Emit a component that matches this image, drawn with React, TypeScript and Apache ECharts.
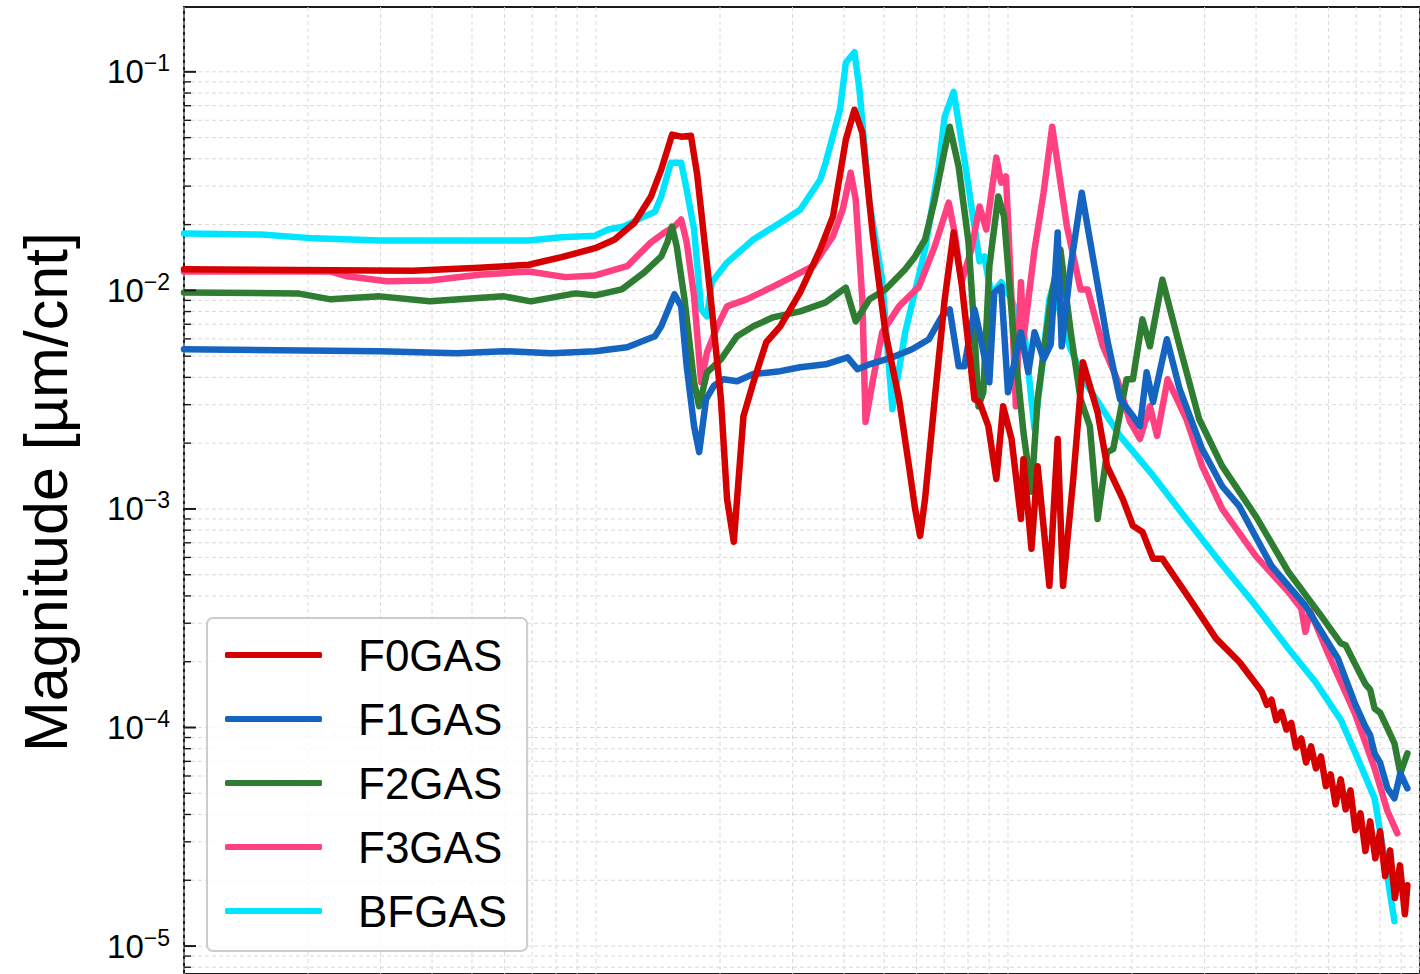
import React, { useEffect, useRef } from 'react';
import * as echarts from 'echarts';

const FONT = '"Liberation Sans", Arial, Helvetica, sans-serif';

// Transfer-function magnitude of each GAS filter: [frequency (Hz), magnitude (µm/cnt)]
const F0GAS: [number, number][] = [
  [0.01, 0.0125], [0.0359, 0.0123], [0.0521, 0.0127], [0.0687, 0.0131], [0.0825, 0.0142], [0.0995, 0.0156],
  [0.111, 0.0171], [0.124, 0.0204], [0.136, 0.0269], [0.144, 0.0357], [0.153, 0.0516], [0.161, 0.0505],
  [0.17, 0.051], [0.176, 0.0339], [0.19, 0.0091], [0.201, 0.00318], [0.208, 0.00111], [0.216, 0.000707],
  [0.228, 0.00266], [0.241, 0.0038], [0.259, 0.00579], [0.28, 0.00685], [0.313, 0.00979], [0.35, 0.0154],
  [0.376, 0.0218], [0.404, 0.0489], [0.424, 0.0671], [0.443, 0.0527], [0.469, 0.0184], [0.504, 0.00643],
  [0.544, 0.00318], [0.575, 0.00157], [0.595, 0.001], [0.612, 0.000753], [0.629, 0.00111], [0.664, 0.00318],
  [0.702, 0.0091], [0.738, 0.0184], [0.771, 0.0109], [0.829, 0.00318], [0.853, 0.00308], [0.896, 0.00239],
  [0.937, 0.00137], [0.973, 0.00295], [1.02, 0.00209], [1.075, 0.0009], [1.09, 0.00169], [1.14, 0.000657],
  [1.18, 0.00157], [1.26, 0.000445], [1.32, 0.00209], [1.36, 0.000445], [1.44, 0.00137], [1.52, 0.00469],
  [1.65, 0.00277], [1.74, 0.00157], [1.9, 0.00111], [2.01, 0.000837], [2.12, 0.000785], [2.25, 0.000591],
  [2.37, 0.000591], [2.76, 0.000388], [3.2, 0.000255], [3.64, 0.0002], [4.13, 0.000146],
  [4.25, 0.000127], [4.36, 0.000134], [4.48, 0.000108], [4.61, 0.000118], [4.74, 9.79e-5], [4.87, 0.000105],
  [5.0, 8.1e-5], [5.15, 8.91e-5], [5.29, 6.92e-5], [5.44, 8.19e-5], [5.59, 6.5e-5], [5.75, 7.37e-5],
  [5.91, 5.38e-5], [6.07, 6.1e-5], [6.24, 4.45e-5], [6.42, 5.79e-5], [6.6, 4.22e-5], [6.78, 5.16e-5],
  [6.97, 3.39e-5], [7.17, 4.05e-5], [7.37, 2.72e-5], [7.57, 3.72e-5], [7.79, 2.52e-5], [8.0, 3.35e-5],
  [8.23, 2.09e-5], [8.46, 2.74e-5], [8.69, 1.66e-5], [8.94, 2.34e-5], [9.19, 1.4e-5], [9.32, 1.9e-5],
];

const F1GAS: [number, number][] = [
  [0.01, 0.00538], [0.0299, 0.00527], [0.0459, 0.00516], [0.0598, 0.00527], [0.078, 0.00516], [0.0995, 0.00527],
  [0.119, 0.00549], [0.139, 0.00617], [0.144, 0.00685], [0.155, 0.00959], [0.161, 0.00845], [0.166, 0.0045],
  [0.173, 0.00239], [0.178, 0.00182], [0.185, 0.00318], [0.193, 0.00365], [0.204, 0.00392], [0.22, 0.00384],
  [0.241, 0.00414], [0.28, 0.00427], [0.313, 0.00445], [0.361, 0.00459], [0.408, 0.00494], [0.431, 0.00436],
  [0.461, 0.00459], [0.524, 0.00494], [0.585, 0.00538], [0.643, 0.00598], [0.691, 0.00761], [0.722, 0.00819],
  [0.759, 0.0045], [0.784, 0.0045], [0.829, 0.00819], [0.853, 0.00643], [0.901, 0.0038], [0.926, 0.00979],
  [0.963, 0.0104], [1.0, 0.00342], [1.075, 0.00643], [1.12, 0.00422], [1.16, 0.00643], [1.22, 0.00484],
  [1.27, 0.00567], [1.32, 0.0184], [1.35, 0.00555], [1.42, 0.0129], [1.51, 0.028], [1.61, 0.0139],
  [1.74, 0.00598], [1.87, 0.00318], [2.01, 0.00266], [2.09, 0.00239], [2.17, 0.00422], [2.25, 0.00308],
  [2.43, 0.00598], [2.61, 0.00353], [2.96, 0.00188], [3.31, 0.00127], [3.64, 0.00103], [4.36, 0.000549],
  [5.27, 0.000361], [6.32, 0.000207], [6.95, 0.000129], [7.37, 0.000101], [7.57, 9.2e-5], [7.76, 7.61e-5],
  [8.0, 6.9e-5], [8.34, 5.27e-5], [8.67, 4.74e-5], [8.96, 6.17e-5], [9.32, 5.27e-5],
];

const F2GAS: [number, number][] = [
  [0.01, 0.00979], [0.0189, 0.00969], [0.0227, 0.0091], [0.0299, 0.00939], [0.0395, 0.00891], [0.0598, 0.00939],
  [0.0695, 0.00891], [0.0891, 0.00969], [0.0995, 0.00949], [0.1155, 0.0101], [0.131, 0.0121], [0.144, 0.0143],
  [0.149, 0.0166], [0.153, 0.0196], [0.157, 0.0159], [0.164, 0.0091], [0.173, 0.0038], [0.178, 0.00295],
  [0.186, 0.00422], [0.201, 0.00484], [0.22, 0.00617], [0.241, 0.00685], [0.269, 0.00753], [0.313, 0.00802],
  [0.361, 0.00881], [0.404, 0.0103], [0.427, 0.00722], [0.461, 0.0091], [0.504, 0.0101], [0.563, 0.0125],
  [0.595, 0.0143], [0.629, 0.0171], [0.664, 0.026], [0.702, 0.044], [0.722, 0.0561], [0.759, 0.0368],
  [0.802, 0.0166], [0.829, 0.00643], [0.848, 0.00295], [0.871, 0.00342], [0.901, 0.0129], [0.947, 0.0269],
  [0.978, 0.0218], [1.03, 0.00643], [1.09, 0.00225], [1.14, 0.0012], [1.18, 0.00318], [1.27, 0.0091],
  [1.34, 0.0154], [1.42, 0.00643], [1.5, 0.00318], [1.58, 0.00239], [1.65, 0.0009], [1.74, 0.00182],
  [1.8, 0.00188], [1.94, 0.00392], [2.01, 0.00392], [2.12, 0.00737], [2.21, 0.00555], [2.37, 0.0112],
  [2.61, 0.00555], [2.91, 0.00258], [3.31, 0.00157], [3.99, 0.000929], [4.79, 0.000516], [5.75, 0.000325],
  [6.42, 0.000243], [6.6, 0.000238], [6.95, 0.000196], [7.37, 0.000158], [7.57, 0.000149], [7.76, 0.000122],
  [8.0, 0.000117], [8.34, 9.9e-5], [8.67, 8.45e-5], [8.96, 6.17e-5], [9.32, 7.61e-5],
];

const F3GAS: [number, number][] = [
  [0.01, 0.0122], [0.0227, 0.0122], [0.0249, 0.0116], [0.0311, 0.011], [0.0395, 0.0111], [0.0521, 0.0118],
  [0.0687, 0.0122], [0.0843, 0.0115], [0.0995, 0.0117], [0.119, 0.0129], [0.136, 0.0166], [0.1465, 0.0184],
  [0.155, 0.0196], [0.161, 0.0211], [0.166, 0.0166], [0.173, 0.00939], [0.18, 0.0038], [0.186, 0.00521],
  [0.197, 0.00685], [0.208, 0.00845], [0.232, 0.0091], [0.269, 0.0104], [0.301, 0.0116], [0.336, 0.0129],
  [0.376, 0.0177], [0.397, 0.0234], [0.415, 0.0346], [0.427, 0.026], [0.443, 0.0091], [0.451, 0.0025],
  [0.469, 0.0038], [0.495, 0.00643], [0.544, 0.00845], [0.608, 0.0104], [0.664, 0.0159], [0.718, 0.0252],
  [0.742, 0.0184], [0.771, 0.0109], [0.815, 0.0154], [0.853, 0.0242], [0.886, 0.019], [0.937, 0.0405],
  [0.963, 0.0311], [0.989, 0.0332], [1.02, 0.0091], [1.045, 0.00295], [1.075, 0.0109], [1.09, 0.00598],
  [1.16, 0.0154], [1.22, 0.028], [1.28, 0.0561], [1.39, 0.0196], [1.5, 0.0101], [1.56, 0.0101],
  [1.7, 0.00555], [1.84, 0.00392], [1.98, 0.0025], [2.09, 0.00209], [2.21, 0.00295], [2.3, 0.00216],
  [2.44, 0.00392], [2.71, 0.00258], [2.96, 0.00157], [3.31, 0.001], [3.99, 0.00061], [4.79, 0.000418],
  [5.15, 0.00035], [5.27, 0.000274], [5.41, 0.000342], [5.98, 0.000218], [6.95, 0.000116], [7.76, 6.5e-5],
  [8.34, 4.14e-5], [8.81, 3.28e-5],
];

const BFGAS: [number, number][] = [
  [0.01, 0.0182], [0.0154, 0.018], [0.0207, 0.0173], [0.0299, 0.0169], [0.0521, 0.0169], [0.0687, 0.0169],
  [0.0825, 0.0175], [0.0995, 0.0178], [0.107, 0.019], [0.117, 0.0196], [0.131, 0.0218], [0.139, 0.0229],
  [0.144, 0.0269], [0.152, 0.0384], [0.161, 0.0384], [0.166, 0.0289], [0.173, 0.019], [0.18, 0.00819],
  [0.186, 0.00761], [0.191, 0.0109], [0.208, 0.0134], [0.241, 0.0171], [0.28, 0.0204], [0.313, 0.0234],
  [0.35, 0.0321], [0.361, 0.0384], [0.391, 0.0671], [0.404, 0.11], [0.424, 0.123], [0.436, 0.0828],
  [0.461, 0.0252], [0.495, 0.0112], [0.524, 0.00286], [0.563, 0.00643], [0.629, 0.0154], [0.679, 0.0368],
  [0.702, 0.0623], [0.738, 0.081], [0.784, 0.0397], [0.829, 0.0196], [0.853, 0.0136], [0.876, 0.0143],
  [0.911, 0.00959], [0.963, 0.0109], [1.02, 0.0091], [1.1, 0.00598], [1.16, 0.00232], [1.2, 0.00392],
  [1.26, 0.0091], [1.29, 0.01065], [1.34, 0.00777], [1.42, 0.00538], [1.56, 0.00365], [1.87, 0.00216],
  [2.25, 0.00142], [2.71, 0.0009], [3.25, 0.000579], [3.99, 0.000361], [4.79, 0.00023], [5.57, 0.000162],
  [6.43, 0.000108], [7.06, 7.22e-5], [7.76, 4.74e-5], [8.2, 2.52e-5], [8.67, 1.3e-5],
];

const LEGEND_ORDER = ['F0GAS', 'F1GAS', 'F2GAS', 'F3GAS', 'BFGAS'];
// drawn bottom to top
const DRAW_ORDER: { name: string; data: [number, number][]; color: string }[] = [
  { name: 'BFGAS', data: BFGAS, color: '#00e5ff' },
  { name: 'F3GAS', data: F3GAS, color: '#ff4081' },
  { name: 'F2GAS', data: F2GAS, color: '#2e7d32' },
  { name: 'F1GAS', data: F1GAS, color: '#1565c0' },
  { name: 'F0GAS', data: F0GAS, color: '#d50000' },
];

const Y_TITLE = 'Magnitude [µm/cnt]';

const X_MIN = 0.01;
const X_MAX = 10;
const Y_MIN = 7.45e-6;
const Y_MAX = 0.198;

const MANTISSAS = [1, 2, 3, 4, 5, 6, 7, 8, 9];
const X_DECADES = [-2, -1, 0, 1];
const Y_DECADES = [-6, -5, -4, -3, -2, -1];

const GRID_COLOR = '#d9d9d9';
const SPINE_COLOR = '#1a1a1a';

function gridValues(decades: number[], lo: number, hi: number): [number, number][] {
  const out: [number, number][] = [];
  decades.forEach((d) => {
    MANTISSAS.forEach((m) => {
      const v = parseFloat((m * Math.pow(10, d)).toPrecision(6));
      if (v >= lo && v <= hi) out.push([v, m === 1 ? 1 : 0]);
    });
  });
  return out;
}

const xGrid = gridValues(X_DECADES, X_MIN, X_MAX);
const yGrid = gridValues(Y_DECADES, Y_MIN, Y_MAX);

function expLabel(v: number): string {
  const l = Math.log10(v);
  const e = Math.round(l);
  if (Math.abs(l - e) > 1e-6) return '';
  return `{b|10}{e|${e < 0 ? '\u2212' : ''}${Math.abs(e)}}`;
}

export default function App() {
  const ref = useRef<HTMLDivElement>(null);

  useEffect(() => {
    if (!ref.current) return;
    const chart = echarts.init(ref.current, undefined, { renderer: 'svg' });

    const option: any = {
      animation: false,
      backgroundColor: '#ffffff',
      grid: {
        left: 184,
        top: 7,
        right: -13,
        bottom: -2,
        show: true,
        borderColor: SPINE_COLOR,
        borderWidth: 2,
        backgroundColor: 'transparent',
      },
      xAxis: {
        type: 'log',
        logBase: 10,
        min: X_MIN,
        max: X_MAX,
        axisLine: { show: false },
        axisTick: { show: false },
        axisLabel: { show: false },
        splitLine: { show: false },
      },
      yAxis: {
        type: 'log',
        logBase: 10,
        min: Y_MIN,
        max: Y_MAX,
        axisLine: { show: false },
        axisTick: { show: false },
        splitLine: { show: false },
        axisLabel: {
          show: true,
          margin: 14,
          color: '#000',
          fontFamily: FONT,
          hideOverlap: false,
          formatter: (v: number) => expLabel(v),
          rich: {
            b: { fontSize: 33, lineHeight: 40, fontFamily: FONT, color: '#000' },
            e: { fontSize: 23, lineHeight: 20, fontFamily: FONT, color: '#000', verticalAlign: 'top' },
          },
        },
      },
      legend: {
        data: LEGEND_ORDER,
        orient: 'vertical',
        left: 207,
        top: 618,
        icon: 'roundRect',
        itemWidth: 97,
        itemHeight: 6,
        itemGap: 14,
        padding: [12, 20, 15, 18],
        backgroundColor: 'rgba(255,255,255,0.8)',
        borderColor: '#cccccc',
        borderWidth: 2,
        borderRadius: 6,
        selectedMode: false,
        textStyle: {
          fontSize: 44,
          fontFamily: FONT,
          color: '#000',
          lineHeight: 50,
          padding: [0, 0, 0, 31],
        },
      },
      graphic: [
        {
          type: 'text',
          x: 46,
          y: 492,
          rotation: Math.PI / 2,
          silent: true,
          style: {
            text: Y_TITLE,
            fontSize: 61,
            fontFamily: FONT,
            fill: '#000',
            align: 'center',
            verticalAlign: 'middle',
          },
        },
      ],
      series: [
        {
          type: 'custom',
          name: 'xgrid',
          coordinateSystem: 'cartesian2d',
          silent: true,
          z: 1,
          data: xGrid.map(([v, major]) => [v, 1e-3, major]),
          encode: { x: 0, y: 1 },
          renderItem: (params: any, api: any) => {
            const cs = params.coordSys;
            const x = api.coord([api.value(0), 1e-3])[0];
            return {
              type: 'line',
              shape: { x1: x, y1: cs.y, x2: x, y2: cs.y + cs.height },
              style: { stroke: GRID_COLOR, lineWidth: 1, lineDash: [4, 3] },
            };
          },
        },
        {
          type: 'custom',
          name: 'ygrid',
          coordinateSystem: 'cartesian2d',
          silent: true,
          z: 1,
          data: yGrid.map(([v, major]) => [X_MIN, v, major]),
          encode: { x: 0, y: 1 },
          renderItem: (params: any, api: any) => {
            const cs = params.coordSys;
            const y = api.coord([X_MIN, api.value(1)])[1];
            return {
              type: 'line',
              shape: { x1: cs.x, y1: y, x2: cs.x + cs.width, y2: y },
              style: { stroke: GRID_COLOR, lineWidth: 1, lineDash: [4, 3] },
            };
          },
        },
        ...DRAW_ORDER.map((s) => ({
          type: 'line',
          name: s.name,
          data: s.data,
          showSymbol: false,
          symbol: 'none',
          z: 3,
          clip: true,
          emphasis: { disabled: true },
          color: s.color,
          itemStyle: { color: s.color },
          lineStyle: { color: s.color, width: 6.5, cap: 'round', join: 'round' },
        })),
        {
          type: 'custom',
          name: 'yticks',
          coordinateSystem: 'cartesian2d',
          silent: true,
          z: 10,
          data: yGrid.map(([v, major]) => [X_MIN, v, major]),
          encode: { x: 0, y: 1 },
          renderItem: (params: any, api: any) => {
            const cs = params.coordSys;
            const y = api.coord([X_MIN, api.value(1)])[1];
            const major = api.value(2) === 1;
            return {
              type: 'line',
              shape: { x1: cs.x, y1: y, x2: cs.x + (major ? 12 : 7), y2: y },
              style: { stroke: SPINE_COLOR, lineWidth: major ? 2 : 1.4 },
            };
          },
        },
      ],
    };

    chart.setOption(option);
    return () => chart.dispose();
  }, []);

  return (
    <div
      ref={ref}
      style={{ position: 'fixed', left: 0, top: 0, width: 1420, height: 974, background: '#fff' }}
    />
  );
}
